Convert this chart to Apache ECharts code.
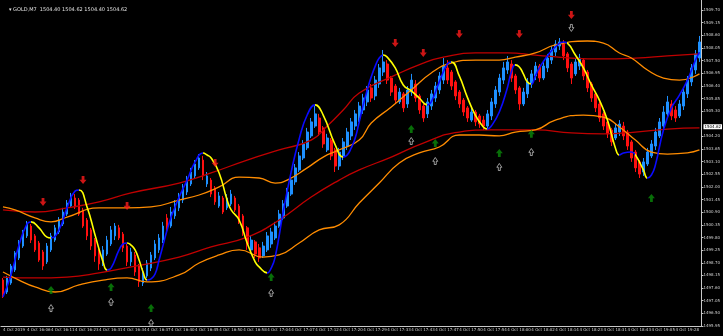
<!DOCTYPE html>
<html><head><meta charset="utf-8">
<script src="https://cdn.jsdelivr.net/npm/echarts@6/dist/echarts.min.js"></script>
<style>html,body{margin:0;padding:0;background:#000;}#c{width:723px;height:336px;}</style>
</head><body><div id="c"></div>
<script>
const titleText = '\u25BE GOLD,M7  1504.40 1504.62 1504.40 1504.62';
const lastPrice = 1504.62;
const timeLabels = ['4 Oct 2019','4 Oct 16:06','4 Oct 16:11','4 Oct 16:23','4 Oct 16:31','4 Oct 16:34','4 Oct 16:37','4 Oct 16:40','4 Oct 16:45','4 Oct 16:50','4 Oct 16:58','4 Oct 17:04','4 Oct 17:07','4 Oct 17:12','4 Oct 17:20','4 Oct 17:29','4 Oct 17:33','4 Oct 17:43','4 Oct 17:47','4 Oct 17:50','4 Oct 17:54','4 Oct 18:00','4 Oct 18:02','4 Oct 18:14','4 Oct 18:23','4 Oct 18:31','4 Oct 18:43','4 Oct 19:05','4 Oct 19:28'];
const priceTicks = [1509.70,1509.15,1508.60,1508.05,1507.50,1506.95,1506.40,1505.85,1505.30,1504.20,1503.65,1503.10,1502.55,1502.00,1501.45,1500.90,1500.35,1499.80,1499.25,1498.70,1498.15,1497.60,1497.05,1496.50,1495.95];

// [open, close, low, high]
const candles = [
[1497.95,1497.34,1497.17,1498.04],[1497.43,1498.04,1497.34,1498.13],[1497.82,1498.56,1497.74,1498.65],[1498.39,1499.13,1498.30,1499.21],[1498.91,1499.61,1498.82,1499.69],
[1499.43,1500.04,1499.35,1500.13],[1499.87,1500.39,1499.78,1500.52],[1500.30,1499.69,1499.56,1500.39],[1499.87,1499.26,1499.17,1499.95],[1499.56,1498.82,1498.74,1499.65],
[1499.17,1498.56,1498.39,1499.26],[1498.74,1499.43,1498.65,1499.56],[1499.26,1499.87,1499.17,1500.00],[1499.69,1500.22,1499.61,1500.35],[1500.04,1500.56,1499.95,1500.69],
[1500.39,1500.91,1500.30,1501.09],[1500.82,1501.30,1500.74,1501.43],[1501.17,1501.56,1501.09,1501.74],[1501.52,1501.13,1501.04,1501.69],[1501.43,1500.82,1500.74,1501.52],
[1501.00,1500.30,1500.22,1501.09],[1500.56,1499.87,1499.69,1500.65],[1500.13,1499.43,1499.26,1500.22],[1499.69,1499.00,1498.74,1499.78],[1499.26,1498.65,1498.39,1499.35],
[1498.74,1499.26,1498.56,1499.43],[1499.08,1499.69,1499.00,1499.87],[1499.52,1500.13,1499.43,1500.30],[1499.87,1500.30,1499.69,1500.43],[1500.22,1499.78,1499.69,1500.35],
[1499.95,1499.35,1499.17,1500.04],[1499.43,1498.74,1498.56,1499.52],[1498.74,1499.17,1498.56,1499.35],[1499.04,1498.30,1498.13,1499.17],[1498.56,1497.87,1497.65,1498.65],
[1497.82,1498.30,1497.69,1498.47],[1498.13,1498.69,1498.04,1498.82],[1498.47,1499.04,1498.34,1499.17],[1498.91,1499.52,1498.82,1499.69],[1499.26,1499.78,1499.13,1499.95],
[1499.69,1500.30,1499.56,1500.48],[1500.65,1500.13,1500.00,1500.82],[1500.30,1500.91,1500.22,1501.13],[1500.74,1501.26,1500.61,1501.43],[1501.09,1501.61,1500.95,1501.74],
[1501.43,1501.96,1501.30,1502.13],[1501.78,1502.30,1501.65,1502.48],[1502.13,1502.65,1502.04,1502.83],[1502.48,1503.00,1502.35,1503.17],[1502.83,1503.26,1502.74,1503.43],
[1503.17,1502.48,1502.30,1503.35],[1502.13,1502.48,1502.00,1502.65],[1502.30,1501.69,1501.56,1502.39],[1501.96,1501.35,1501.22,1502.04],[1501.17,1501.61,1501.09,1501.78],
[1501.52,1500.91,1500.82,1501.61],[1501.09,1501.52,1501.00,1501.69],[1501.26,1501.69,1501.17,1501.87],[1501.52,1501.00,1500.91,1501.61],[1501.17,1500.56,1500.39,1501.26],
[1500.74,1500.04,1499.87,1500.82],[1500.22,1499.52,1499.26,1500.30],[1499.26,1499.69,1499.08,1499.87],[1499.61,1499.08,1498.91,1499.69],[1499.35,1498.91,1498.74,1499.52],
[1499.00,1499.43,1498.91,1499.61],[1499.26,1499.87,1499.17,1500.04],[1499.52,1500.04,1499.35,1500.22],[1499.78,1500.30,1499.69,1500.48],[1500.30,1500.82,1500.22,1501.00],
[1500.65,1501.26,1500.56,1501.43],[1501.17,1501.78,1501.09,1501.96],[1501.69,1502.30,1501.61,1502.48],[1502.22,1502.83,1502.09,1503.00],[1502.74,1503.35,1502.65,1503.52],
[1503.26,1503.87,1503.17,1504.04],[1503.70,1504.39,1503.61,1504.57],[1504.22,1504.83,1504.13,1505.00],[1504.65,1505.18,1504.57,1505.52],[1505.00,1504.39,1504.22,1505.18],
[1504.57,1503.87,1503.70,1504.65],[1503.61,1504.13,1503.52,1504.31],[1504.04,1503.35,1503.17,1504.13],[1503.61,1502.91,1502.65,1503.70],[1502.91,1503.52,1502.74,1503.70],
[1503.35,1503.96,1503.17,1504.13],[1503.78,1504.39,1503.61,1504.57],[1504.22,1504.83,1504.04,1505.00],[1504.65,1505.18,1504.48,1505.35],[1505.00,1505.52,1504.83,1505.70],
[1505.35,1505.87,1505.18,1506.05],[1505.70,1506.22,1505.52,1506.39],[1506.31,1505.87,1505.70,1506.48],[1505.96,1506.65,1505.78,1506.83],[1506.48,1507.18,1506.31,1507.35],
[1507.00,1507.44,1506.83,1507.96],[1507.35,1506.65,1506.48,1507.52],[1506.74,1506.13,1505.96,1506.83],[1506.39,1505.78,1505.61,1506.48],[1505.70,1506.13,1505.61,1506.31],
[1506.05,1505.44,1505.26,1506.13],[1505.61,1506.22,1505.44,1506.39],[1506.13,1506.65,1505.96,1506.92],[1506.48,1505.87,1505.70,1506.65],[1505.96,1505.35,1505.18,1506.05],
[1505.52,1505.00,1504.83,1505.61],[1505.18,1505.70,1505.00,1505.87],[1505.52,1506.05,1505.35,1506.22],[1505.87,1506.39,1505.70,1506.57],[1506.22,1506.83,1506.05,1507.00],
[1506.65,1507.26,1506.48,1507.61],[1507.18,1506.65,1506.48,1507.52],[1507.00,1506.39,1506.22,1507.09],[1506.57,1505.96,1505.78,1506.65],[1506.13,1505.61,1505.44,1506.22],
[1505.78,1505.26,1505.09,1505.87],[1505.44,1505.00,1504.83,1505.52],[1504.91,1505.26,1504.83,1505.44],[1505.26,1504.83,1504.65,1505.35],[1505.09,1504.74,1504.57,1505.18],
[1504.91,1504.65,1504.48,1505.09],[1504.65,1505.18,1504.48,1505.35],[1505.09,1505.70,1504.91,1505.87],[1505.61,1506.22,1505.44,1506.39],[1506.13,1506.74,1505.96,1506.92],
[1506.65,1507.18,1506.48,1507.44],[1507.09,1507.44,1506.92,1507.70],[1507.35,1506.74,1506.57,1507.52],[1506.83,1506.22,1506.05,1506.92],[1506.31,1505.61,1505.35,1506.39],
[1505.61,1506.13,1505.52,1506.31],[1506.05,1506.57,1505.87,1506.74],[1506.48,1506.92,1506.31,1507.09],[1506.83,1507.26,1506.65,1507.44],[1507.26,1506.74,1506.57,1507.35],
[1506.74,1507.26,1506.65,1507.44],[1507.18,1507.61,1507.00,1507.79],[1507.52,1507.96,1507.35,1508.13],[1507.87,1508.22,1507.70,1508.39],[1508.13,1508.31,1507.96,1508.48],
[1508.22,1507.70,1507.52,1508.39],[1507.79,1507.18,1507.00,1507.87],[1507.35,1506.74,1506.48,1507.44],[1506.92,1507.44,1506.83,1507.61],[1507.26,1507.61,1507.09,1507.79],
[1507.52,1506.83,1506.65,1507.61],[1507.00,1506.31,1506.13,1507.09],[1506.48,1505.87,1505.70,1506.57],[1506.05,1505.44,1505.26,1506.13],[1505.61,1505.00,1504.83,1505.70],
[1505.18,1504.65,1504.48,1505.26],[1504.83,1504.31,1504.13,1504.91],[1504.48,1503.96,1503.78,1504.57],[1504.13,1504.57,1504.04,1504.74],[1504.39,1504.74,1504.22,1504.91],
[1504.65,1504.22,1504.04,1504.83],[1504.39,1503.78,1503.61,1504.48],[1503.96,1503.26,1503.09,1504.04],[1503.52,1502.83,1502.65,1503.61],[1503.09,1502.56,1502.39,1503.17],
[1502.65,1503.09,1502.48,1503.26],[1503.00,1503.52,1502.91,1503.70],[1503.35,1503.87,1503.26,1504.04],[1503.78,1504.39,1503.61,1504.57],[1504.22,1504.83,1504.13,1505.00],
[1504.65,1505.26,1504.57,1505.52],[1505.18,1505.70,1505.00,1505.96],[1505.61,1505.09,1504.91,1505.78],[1505.35,1505.00,1504.83,1505.52],[1505.09,1505.61,1505.00,1505.78],
[1505.52,1506.13,1505.35,1506.31],[1506.05,1506.65,1505.87,1506.83],[1506.57,1507.18,1506.39,1507.35],[1507.09,1507.79,1506.92,1507.96],[1507.61,1508.31,1507.44,1508.57]
];

// smoothed signal line (bar index, value)
const hmaIdx = [0,2,4,6,7,9,11,12,14,16,18,19,21,23,25,26,27,29,30,31,32,33,34,35,36,37,38,39,40,41,42,43,44,46,48,50,51,52,54,56,57,59,61,63,64,66,67,68,70,72,74,76,78,80,83,85,86,87,88,89,90,91,92,93,94,95,96,98,100,102,104,106,107,109,111,112,114,116,118,120,121,122,124,126,127,128,129,130,131,132,133,134,136,138,140,141,143,145,147,149,151,153,154,155,157,158,160,161,162,163,165,167,169,171,173,174];
const hmaVal = [1497.21,1498.17,1499.47,1500.39,1500.48,1500.22,1499.82,1499.78,1500.13,1501.09,1501.82,1501.87,1501.13,1499.91,1498.74,1498.39,1498.47,1499.26,1499.52,1499.56,1499.47,1499.26,1498.82,1498.30,1497.95,1498.00,1498.21,1498.82,1499.47,1500.13,1500.69,1501.13,1501.56,1502.30,1503.09,1503.48,1503.39,1503.26,1502.61,1501.43,1501.00,1500.56,1499.56,1498.74,1498.52,1498.26,1498.47,1498.95,1500.91,1502.65,1504.09,1505.13,1505.57,1505.13,1503.83,1503.30,1503.39,1503.70,1504.13,1504.83,1505.57,1506.22,1506.79,1507.26,1507.61,1507.74,1507.65,1507.18,1506.44,1506.18,1505.87,1505.57,1505.70,1506.57,1507.35,1507.44,1506.83,1505.91,1505.13,1504.61,1504.52,1504.65,1505.26,1506.31,1507.00,1507.31,1507.22,1506.92,1506.57,1506.48,1506.83,1507.18,1507.70,1508.09,1508.31,1508.26,1507.74,1507.18,1506.44,1505.78,1504.91,1503.70,1503.39,1503.48,1503.52,1503.39,1502.74,1502.39,1502.52,1502.96,1504.48,1505.44,1506.00,1506.65,1507.52,1507.87];
// turning points: rising (blue) / falling (yellow) alternate, starting rising
const hmaTurns = [6.5,12,18.6,26,30.5,36,50,66,78,85,95.3,106,111.8,121,128.4,132,140.6,154,157.5,161.2];

const redUpper = [[0,1501.00],[8,1500.91],[16,1501.09],[24,1501.35],[32,1501.74],[44,1502.17],[52,1502.61],[61,1503.17],[69,1503.61],[77,1504.04],[81,1504.65],[85,1505.35],[89,1506.09],[97,1506.79],[105,1507.39],[110,1507.65],[118,1507.83],[126,1507.83],[133,1507.74],[142,1507.61],[150,1507.57],[158,1507.61],[166,1507.70],[174,1507.79]];
const redLower = [[0,1498.08],[8,1498.04],[16,1498.08],[24,1498.26],[32,1498.52],[44,1498.95],[52,1499.39],[61,1499.82],[69,1500.56],[77,1501.56],[84,1502.30],[89,1502.74],[97,1503.30],[105,1503.91],[114,1504.39],[122,1504.48],[133,1504.48],[142,1504.35],[150,1504.31],[158,1504.39],[166,1504.52],[174,1504.57]];
const orangeUpper = [[0,1501.13],[3,1501.00],[8,1500.65],[12,1500.48],[16,1500.69],[24,1501.09],[31,1501.09],[37,1501.13],[44,1501.43],[49,1501.65],[54,1502.00],[59,1502.43],[64,1502.39],[68,1502.17],[71,1502.30],[76,1502.83],[80,1503.30],[84,1503.61],[89,1504.04],[92,1504.78],[97,1505.48],[102,1506.22],[107,1506.96],[112,1507.39],[118,1507.52],[124,1507.52],[128,1507.65],[133,1507.83],[138,1508.18],[146,1508.35],[150,1508.26],[154,1507.83],[157,1507.61],[161,1507.09],[165,1506.74],[169,1506.65],[174,1506.92]];
const orangeLower = [[0,1498.30],[4,1497.95],[8,1497.65],[13,1497.43],[19,1497.74],[25,1497.95],[31,1498.04],[36,1497.87],[44,1498.17],[49,1498.69],[54,1499.04],[59,1499.26],[65,1498.95],[69,1499.04],[74,1499.56],[79,1500.13],[84,1500.35],[89,1501.30],[94,1502.17],[99,1503.04],[104,1503.48],[109,1503.74],[114,1504.26],[119,1504.26],[124,1504.22],[128,1504.39],[133,1504.48],[138,1504.91],[145,1505.13],[150,1505.04],[154,1504.61],[158,1504.04],[162,1503.52],[166,1503.43],[171,1503.48],[174,1503.61]];

const sellArrows = [[10,1501.35],[20,1502.30],[31,1501.17],[53,1503.04],[98,1508.26],[105,1507.83],[114,1508.66],[129,1508.66],[142,1509.48]];
const buyArrows = [[12,1497.52],[27,1497.65],[37,1496.73],[67,1498.08],[102,1504.52],[108,1503.91],[124,1503.48],[132,1504.31],[162,1501.52]];
const hollowUp = [[12,1496.73],[27,1497.00],[37,1496.08],[67,1497.39],[102,1504.00],[108,1503.13],[124,1502.87],[132,1503.52]];
const hollowDown = [[142,1508.92]];

const N = candles.length;
const cats = [];
for (let i = 0; i < N; i++) cats.push(i % 6 === 0 && timeLabels[i / 6] ? timeLabels[i / 6] : '');
const hma = hmaIdx.map((x, k) => [x, hmaVal[k]]);
const BLUE = '#0a0aff', YEL = '#ffff00';
const pieces = [];
let prev = -1;
for (let k = 0; k <= hmaTurns.length; k++) {
  const p = { color: k % 2 === 0 ? BLUE : YEL };
  if (k > 0) p.gte = hmaTurns[k - 1]; else p.gte = -1;
  if (k < hmaTurns.length) p.lt = hmaTurns[k]; else p.lt = 1000;
  pieces.push(p);
}
const downPath = 'path://M3,0L7,0L7,5L10,5L5,11L0,5L3,5Z';
const upPath = 'path://M5,0L10,6L7,6L7,11L3,11L3,6L0,6Z';
const F = 'DejaVu Sans';

const chart = echarts.init(document.getElementById('c'), null, { renderer: 'canvas' });
chart.setOption({
  backgroundColor: '#000',
  animation: false,
  title: { text: titleText, left: 4, top: 2, textStyle: { color: '#e0e0e0', fontSize: 5, fontWeight: 'normal', fontFamily: F } },
  grid: { left: 0, right: 17, top: 0, bottom: 10 },
  xAxis: {
    type: 'category', data: cats, boundaryGap: true,
    axisLine: { lineStyle: { color: '#c8c8c8', width: 1 } },
    axisTick: { alignWithLabel: true, length: 2, interval: (i) => i % 6 === 0, lineStyle: { color: '#c8c8c8' } },
    axisLabel: { interval: (i) => i % 6 === 0, color: '#d0d0d0', fontSize: 4, align: 'left', margin: 2, fontFamily: F },
    splitLine: { show: false }
  },
  yAxis: {
    type: 'value', position: 'right', min: 1495.95, max: 1510.135, scale: true,
    axisLine: { show: true, lineStyle: { color: '#c8c8c8', width: 1 } },
    axisTick: { show: true, length: 2, customValues: priceTicks, lineStyle: { color: '#c8c8c8' } },
    axisLabel: { customValues: priceTicks, formatter: (v) => v.toFixed(2), color: '#d0d0d0', fontSize: 4, margin: 2, fontFamily: F },
    splitLine: { show: false }
  },
  visualMap: {
    show: false, type: 'piecewise', seriesIndex: 5, dimension: 0, pieces: pieces
  },
  series: [
    {
      type: 'candlestick', data: candles, barWidth: 2.2, z: 2,
      itemStyle: { color: '#1e90ff', color0: '#ff1010', borderColor: '#1e90ff', borderColor0: '#ff1010', borderWidth: 1 },
      markLine: {
        silent: true, symbol: 'none', data: [{ yAxis: lastPrice }],
        lineStyle: { color: 'rgba(0,0,0,0)', width: 0 },
        label: { show: true, position: 'end', distance: 2, formatter: () => lastPrice.toFixed(2), backgroundColor: '#ffffff', color: '#000', fontSize: 4, padding: [1, 1, 0, 1], fontFamily: F }
      }
    },
    { type: 'line', data: redUpper, smooth: 0.5, symbol: 'none', z: 3, lineStyle: { color: '#c00000', width: 1.3 } },
    { type: 'line', data: redLower, smooth: 0.5, symbol: 'none', z: 3, lineStyle: { color: '#c00000', width: 1.3 } },
    { type: 'line', data: orangeUpper, smooth: 0.5, symbol: 'none', z: 3, lineStyle: { color: '#ff8c00', width: 1.3 } },
    { type: 'line', data: orangeLower, smooth: 0.5, symbol: 'none', z: 3, lineStyle: { color: '#ff8c00', width: 1.3 } },
    { type: 'line', data: hma, smooth: 0.5, symbol: 'none', z: 4, lineStyle: { width: 1.6 } },
    { type: 'scatter', data: sellArrows, symbol: downPath, symbolSize: [7, 8], z: 5, itemStyle: { color: '#ff1a1a' } },
    { type: 'scatter', data: buyArrows, symbol: upPath, symbolSize: [7, 8], z: 5, itemStyle: { color: '#0a8a0a' } },
    { type: 'scatter', data: hollowUp, symbol: upPath, symbolSize: [5, 7], z: 5, itemStyle: { color: '#000', borderColor: '#e8e8e8', borderWidth: 0.8 } },
    { type: 'scatter', data: hollowDown, symbol: downPath, symbolSize: [5, 7], z: 5, itemStyle: { color: '#000', borderColor: '#e8e8e8', borderWidth: 0.8 } }
  ]
});
</script></body></html>
